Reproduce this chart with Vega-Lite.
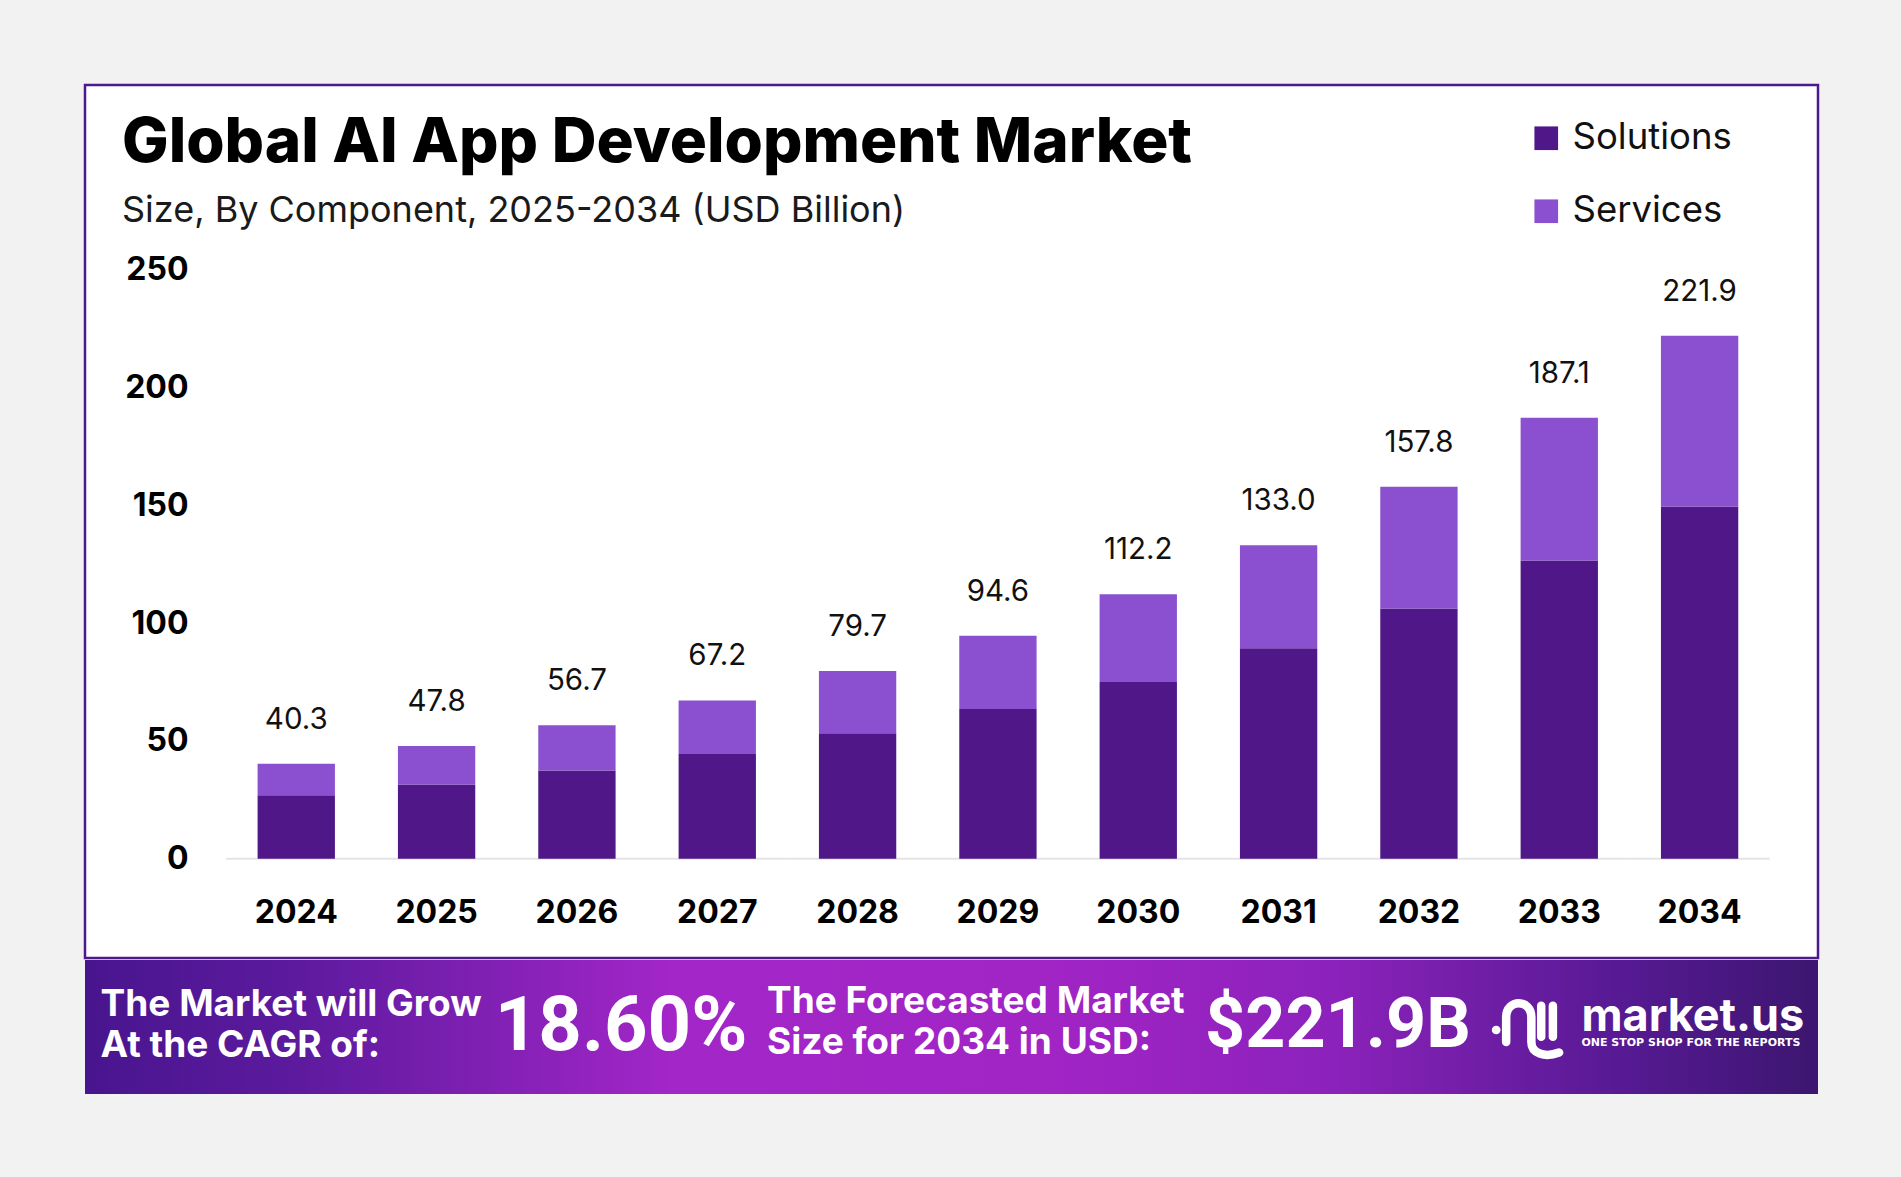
{
  "$schema": "https://vega.github.io/schema/vega-lite/v6.json",
  "background": "#f2f2f2",
  "padding": {"left": 83, "top": 83, "right": 84, "bottom": 85},
  "spacing": 0,
  "config": {"view": {"stroke": null}, "font": "Inter"},
  "datasets": {
    "bars": [
      {"year": "2024", "component": "Solutions", "value": 27.0},
      {"year": "2024", "component": "Services", "value": 13.3},
      {"year": "2025", "component": "Solutions", "value": 31.5},
      {"year": "2025", "component": "Services", "value": 16.3},
      {"year": "2026", "component": "Solutions", "value": 37.5},
      {"year": "2026", "component": "Services", "value": 19.2},
      {"year": "2027", "component": "Solutions", "value": 44.5},
      {"year": "2027", "component": "Services", "value": 22.7},
      {"year": "2028", "component": "Solutions", "value": 53.3},
      {"year": "2028", "component": "Services", "value": 26.4},
      {"year": "2029", "component": "Solutions", "value": 63.5},
      {"year": "2029", "component": "Services", "value": 31.1},
      {"year": "2030", "component": "Solutions", "value": 75.0},
      {"year": "2030", "component": "Services", "value": 37.2},
      {"year": "2031", "component": "Solutions", "value": 89.3},
      {"year": "2031", "component": "Services", "value": 43.7},
      {"year": "2032", "component": "Solutions", "value": 106.2},
      {"year": "2032", "component": "Services", "value": 51.6},
      {"year": "2033", "component": "Solutions", "value": 126.5},
      {"year": "2033", "component": "Services", "value": 60.6},
      {"year": "2034", "component": "Solutions", "value": 149.5},
      {"year": "2034", "component": "Services", "value": 72.4}
    ],
    "totals": [
      {"year": "2024", "total": 40.3},
      {"year": "2025", "total": 47.8},
      {"year": "2026", "total": 56.7},
      {"year": "2027", "total": 67.2},
      {"year": "2028", "total": 79.7},
      {"year": "2029", "total": 94.6},
      {"year": "2030", "total": 112.2},
      {"year": "2031", "total": 133.0},
      {"year": "2032", "total": 157.8},
      {"year": "2033", "total": 187.1},
      {"year": "2034", "total": 221.9}
    ]
  },
  "vconcat": [
    {
      "width": 1733,
      "height": 873,
      "view": {"fill": "#ffffff", "stroke": "#4d1a8c", "strokeWidth": 2.5},
      "title": {
        "text": "Global AI App Development Market",
        "subtitle": "Size, By Component, 2025-2034 (USD Billion)",
        "anchor": "start",
        "frame": "group",
        "orient": "top",
        "offset": -145,
        "dx": 37,
        "font": "Inter",
        "fontSize": 62,
        "fontWeight": 800,
        "color": "#000000",
        "subtitleFont": "Inter",
        "subtitleFontSize": 36,
        "subtitleFontWeight": 400,
        "subtitleColor": "#1a1a1a",
        "subtitlePadding": 19
      },
      "layer": [
        {
          "data": {"name": "totals"},
          "mark": {"type": "tick", "orient": "horizontal", "size": 140.4, "thickness": 2, "color": "#d9d9d9"},
          "encoding": {
            "x": {"field": "year", "type": "nominal"},
            "y": {"datum": 0, "type": "quantitative"}
          }
        },
        {
          "data": {"name": "bars"},
          "mark": {"type": "bar"},
          "encoding": {
            "x": {
              "field": "year", "type": "nominal",
              "scale": {"type": "band", "paddingInner": 0.449, "paddingOuter": 0.899, "align": 0.684},
              "axis": {
                "orient": "bottom", "offset": -46, "title": null, "domain": false, "ticks": false, "tickSize": 0,
                "bandPosition": 0.5,
                "labelPadding": 0, "labelBaseline": "middle", "labelAngle": 0, "labelAlign": "center",
                "labelFont": "Inter", "labelFontSize": 32, "labelFontWeight": "bold", "labelColor": "#000000"
              }
            },
            "y": {
              "field": "value", "type": "quantitative", "stack": "zero",
              "scale": {"domain": [-42.1, 328.3], "nice": false, "zero": false},
              "axis": {
                "orient": "left", "offset": -108, "values": [0, 50, 100, 150, 200, 250], "title": null,
                "domain": false, "ticks": false, "tickSize": 0, "grid": false, "labelPadding": 5,
                "labelFont": "Inter", "labelFontSize": 32, "labelFontWeight": "bold", "labelColor": "#000000"
              }
            },
            "color": {
              "field": "component", "type": "nominal",
              "scale": {"domain": ["Solutions", "Services"], "range": ["#4f1787", "#8b50cf"]},
              "legend": {
                "title": null, "orient": "none", "legendX": 1443, "legendY": 35, "direction": "vertical",
                "symbolType": "square", "symbolSize": 560, "symbolStrokeWidth": 0, "symbolOpacity": 1,
                "labelFont": "Inter", "labelFontSize": 36.5, "labelColor": "#111111", "labelOffset": 8,
                "rowPadding": 36, "padding": 0
              }
            },
            "order": {"field": "component", "sort": "descending"}
          }
        },
        {
          "data": {"name": "totals"},
          "mark": {"type": "text", "font": "Inter", "fontSize": 29.5, "fontWeight": 400, "color": "#111111", "baseline": "middle", "dy": -44},
          "encoding": {
            "x": {"field": "year", "type": "nominal"},
            "y": {"field": "total", "type": "quantitative"},
            "text": {"field": "total", "type": "quantitative", "format": ".1f"}
          }
        }
      ]
    },
    {
      "width": 1733,
      "height": 134,
      "layer": [
        {
          "data": {"values": [{"text": ""}]},
          "mark": {
            "type": "rect",
            "color": {
              "gradient": "linear", "x1": 0, "y1": 0, "x2": 1, "y2": 0,
              "stops": [
                {"offset": 0, "color": "#48158e"},
                {"offset": 0.12, "color": "#5c1a9e"},
                {"offset": 0.34, "color": "#a326c8"},
                {"offset": 0.56, "color": "#a124c5"},
                {"offset": 0.72, "color": "#8c22bb"},
                {"offset": 0.88, "color": "#581a95"},
                {"offset": 1, "color": "#3c1670"}
              ]
            }
          },
          "encoding": {
            "x": {"datum": 0, "type": "quantitative", "scale": {"domain": [0, 100], "nice": false, "zero": false}, "axis": null},
            "x2": {"datum": 100},
            "y": {"datum": 0, "type": "quantitative", "scale": {"domain": [0, 100], "nice": false, "zero": false, "reverse": true}, "axis": null},
            "y2": {"datum": 100}
          }
        },
        {
          "data": {"values": [{"text": "The Market will Grow\nAt the CAGR of:"}]},
          "mark": {"type": "text", "font": "Inter", "fontSize": 37, "fontWeight": "bold", "color": "#ffffff", "align": "left", "baseline": "alphabetic", "lineBreak": "\n", "lineHeight": 41},
          "encoding": {
            "x": {"datum": 0.9, "type": "quantitative"},
            "y": {"datum": 41.8, "type": "quantitative"},
            "text": {"field": "text"}
          }
        },
        {
          "data": {"values": [{"text": "18.60%"}]},
          "mark": {"type": "text", "font": "Roboto", "fontSize": 76, "fontWeight": "bold", "color": "#ffffff", "align": "center", "baseline": "alphabetic"},
          "encoding": {
            "x": {"datum": 30.93, "type": "quantitative"},
            "y": {"datum": 67.2, "type": "quantitative"},
            "text": {"field": "text"}
          }
        },
        {
          "data": {"values": [{"text": "The Forecasted Market\nSize for 2034 in USD:"}]},
          "mark": {"type": "text", "font": "Inter", "fontSize": 37, "fontWeight": "bold", "color": "#ffffff", "align": "left", "baseline": "alphabetic", "lineBreak": "\n", "lineHeight": 41},
          "encoding": {
            "x": {"datum": 39.35, "type": "quantitative"},
            "y": {"datum": 39.6, "type": "quantitative"},
            "text": {"field": "text"}
          }
        },
        {
          "data": {"values": [{"text": "$221.9B"}]},
          "mark": {"type": "text", "font": "Roboto", "fontSize": 70, "fontWeight": "bold", "color": "#ffffff", "align": "center", "baseline": "alphabetic"},
          "encoding": {
            "x": {"datum": 72.3, "type": "quantitative"},
            "y": {"datum": 65.0, "type": "quantitative"},
            "text": {"field": "text"}
          }
        },
        {
          "data": {"values": [{"text": ""}]},
          "mark": {
            "type": "point",
            "shape": "M -0.877 0.08 L -0.87 0.08 M -0.6 0.41 L -0.6 -0.27 C -0.6 -0.78 0.09 -0.78 0.09 -0.27 L 0.09 0.41 C 0.09 0.72 0.45 0.85 0.85 0.7 M 0.36 -0.58 L 0.36 0.27 M 0.68 -0.58 L 0.68 0.27",
            "size": 5329,
            "filled": false,
            "stroke": "#ffffff",
            "strokeWidth": 8.5,
            "strokeCap": "round",
            "strokeJoin": "round",
            "opacity": 1
          },
          "encoding": {
            "x": {"datum": 83.27, "type": "quantitative"},
            "y": {"datum": 50.0, "type": "quantitative"}
          }
        },
        {
          "data": {"values": [{"text": "market.us"}]},
          "mark": {"type": "text", "font": "Inter", "fontSize": 45, "fontWeight": "bold", "color": "#ffffff", "align": "left", "baseline": "alphabetic"},
          "encoding": {
            "x": {"datum": 86.35, "type": "quantitative"},
            "y": {"datum": 53.2, "type": "quantitative"},
            "text": {"field": "text"}
          }
        },
        {
          "data": {"values": [{"text": "ONE STOP SHOP FOR THE REPORTS"}]},
          "mark": {"type": "text", "font": "DejaVu Sans", "fontSize": 11, "fontWeight": "bold", "color": "#ffffff", "align": "left", "baseline": "alphabetic"},
          "encoding": {
            "x": {"datum": 86.35, "type": "quantitative"},
            "y": {"datum": 64.5, "type": "quantitative"},
            "text": {"field": "text"}
          }
        }
      ]
    }
  ]
}
